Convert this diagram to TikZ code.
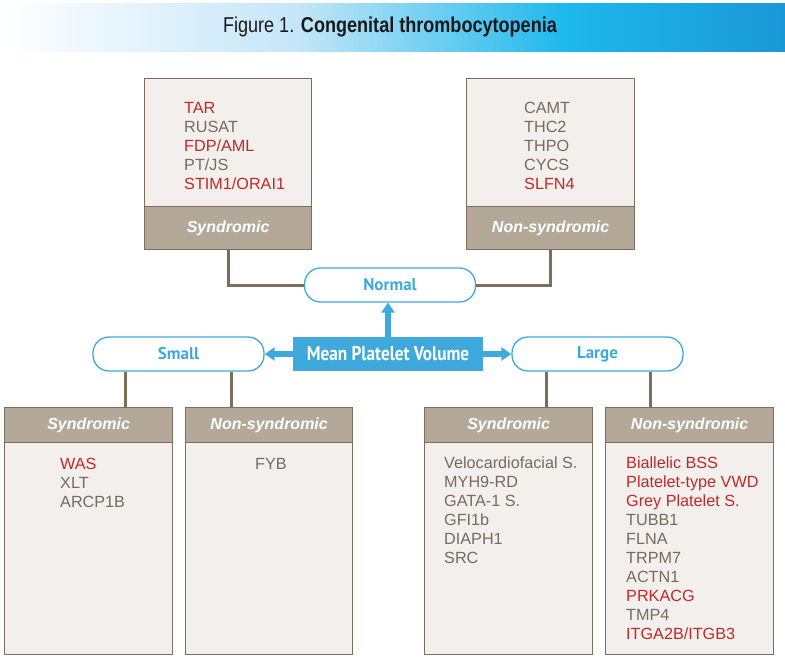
\documentclass[tikz,border=0pt]{standalone}
\usepackage{fontspec}
\usepackage{graphicx}
\setmainfont{Liberation Sans}
\newfontfamily\ptsans{PT Sans}
\usetikzlibrary{arrows.meta}
\definecolor{mpvblue}{HTML}{3FA9DD}
\definecolor{boxline}{HTML}{7D6E5A}
\definecolor{headfill}{HTML}{B4A898}
\definecolor{bodyfill}{HTML}{F3EFEC}
\definecolor{genered}{HTML}{BE2A2A}
\definecolor{txtgray}{HTML}{776B5E}
\definecolor{bannerA}{HTML}{C4E6F8}
\definecolor{bannerB}{HTML}{1EB8EC}
\definecolor{bannerC}{HTML}{1A98D6}
\pgfdeclarehorizontalshading{banner}{100bp}{color(0bp)=(white); color(25bp)=(white); color(44bp)=(bannerA); color(61bp)=(bannerB); color(75bp)=(bannerC); color(100bp)=(bannerC)}
\newcommand\redgene[1]{\textcolor{genered}{#1}}
\tikzset{
  bodybox/.style={draw=boxline, fill=bodyfill, line width=1.3pt, inner sep=0pt, anchor=north west},
  headbox/.style={draw=boxline, fill=headfill, line width=1.3pt, inner sep=0pt, anchor=north west,
    text=white, font=\fontsize{16}{19}\selectfont\bfseries\itshape},
  listtext/.style={anchor=north west, inner sep=0pt, align=left, text=txtgray,
    font=\fontsize{16.2}{19}\selectfont},
  sizenode/.style={draw=mpvblue, line width=1.3pt, fill=white, rounded corners=16pt,
    minimum width=171pt, minimum height=34pt, inner sep=0pt, text=mpvblue,
    font=\ptsans\bfseries\fontsize{17}{20}\selectfont},
  mpvbox/.style={fill=mpvblue, text=white, minimum width=190pt, minimum height=34pt, inner sep=0pt,
    font=\ptsans\bfseries\fontsize{20}{24}\selectfont},
  conn/.style={draw=boxline, line width=3pt},
  barrow/.style={draw=mpvblue, line width=6pt, -{Triangle[width=13pt,length=10pt]}}
}
\begin{document}
\begin{tikzpicture}[x=1pt,y=-1pt]
\useasboundingbox (0,0) rectangle (785,657);
% banner
\shade[shading=banner] (0,3) rectangle (785,51);
\node[inner sep=0pt, text=black!90] (title) at (390,27)
  {\scalebox{0.84}[1]{\fontsize{21.5}{24}\selectfont Figure 1. \textbf{Congenital thrombocytopenia}}};

% top boxes
\node[bodybox, minimum width=167pt, minimum height=128pt] (tlbody) at (144,78) {};
\node[headbox, minimum width=167pt, minimum height=43pt] (tlhead) at (144,206) {Syndromic};
\node[listtext] (tltext) at (184,102) {\redgene{TAR}\\RUSAT\\\redgene{FDP/AML}\\PT/JS\\\redgene{STIM1/ORAI1}};

\node[bodybox, minimum width=168pt, minimum height=128pt] (trbody) at (466,78) {};
\node[headbox, minimum width=168pt, minimum height=43pt] (trhead) at (466,206) {Non-syndromic};
\node[listtext] (trtext) at (524,102) {CAMT\\THC2\\THPO\\CYCS\\\redgene{SLFN4}};

% central nodes
\node[sizenode] (normal) at (390,285) {Normal};
\node[mpvbox] (mpv) at (388,354) {\scalebox{0.86}[1]{Mean Platelet Volume}};
\node[sizenode] (small) at (178.5,354) {Small};
\node[sizenode] (large) at (597.5,354) {Large};

% bottom boxes
\node[bodybox, minimum width=168pt, minimum height=212pt] (b1body) at (4,442) {};
\node[headbox, minimum width=168pt, minimum height=35pt] (b1head) at (4,407) {Syndromic};
\node[listtext] (b1text) at (60,458) {\redgene{WAS}\\XLT\\ARCP1B};

\node[bodybox, minimum width=167pt, minimum height=212pt] (b2body) at (185,442) {};
\node[headbox, minimum width=167pt, minimum height=35pt] (b2head) at (185,407) {Non-syndromic};
\node[listtext] (b2text) at (255,458) {FYB};

\node[bodybox, minimum width=168pt, minimum height=212pt] (b3body) at (424,442) {};
\node[headbox, minimum width=168pt, minimum height=35pt] (b3head) at (424,407) {Syndromic};
\node[listtext] (b3text) at (444,457) {Velocardiofacial S.\\MYH9-RD\\GATA-1 S.\\GFI1b\\DIAPH1\\SRC};

\node[bodybox, minimum width=168pt, minimum height=212pt] (b4body) at (605,442) {};
\node[headbox, minimum width=168pt, minimum height=35pt] (b4head) at (605,407) {Non-syndromic};
\node[listtext] (b4text) at (626,457) {\redgene{Biallelic BSS}\\\redgene{Platelet-type VWD}\\\redgene{Grey Platelet S.}\\TUBB1\\FLNA\\TRPM7\\ACTN1\\\redgene{PRKACG}\\TMP4\\\redgene{ITGA2B/ITGB3}};

% connectors to top boxes
\draw[conn] (tlhead.south) |- (normal.west);
\draw[conn] (trhead.south) |- (normal.east);

% connectors to bottom boxes
\coordinate (c1) at (125.5,0);
\coordinate (c2) at (231,0);
\coordinate (c3) at (546,0);
\coordinate (c4) at (650,0);
\draw[conn] (small.south -| c1) -- (c1 |- b1head.north);
\draw[conn] (small.south -| c2) -- (c2 |- b2head.north);
\draw[conn] (large.south -| c3) -- (c3 |- b3head.north);
\draw[conn] (large.south -| c4) -- (c4 |- b4head.north);

% arrows
\draw[barrow] (mpv.north) -- (mpv.north |- normal.south);
\draw[barrow] (mpv.west) -- (small.east);
\draw[barrow] (mpv.east) -- (large.west);
\end{tikzpicture}
\end{document}
